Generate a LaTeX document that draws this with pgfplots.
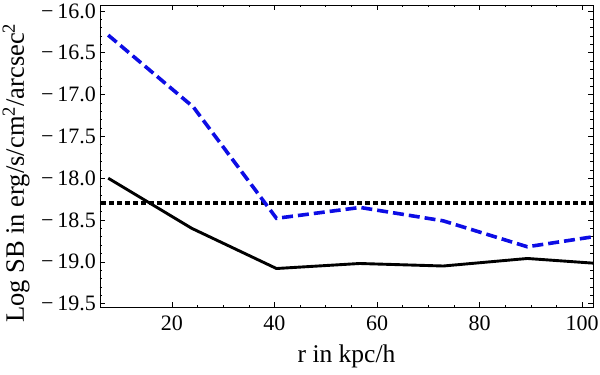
\documentclass[border=0pt]{standalone}
\usepackage{fontspec}
\setmainfont{Liberation Serif}
\usepackage{pgfplots}
\pgfplotsset{compat=1.18}
\definecolor{mblue}{rgb}{0.05,0.05,0.9}
\begin{document}
\begin{tikzpicture}[x=1pt,y=1pt]
\useasboundingbox (0,0) rectangle (600,375);
\begin{axis}[
  at={(100pt,68pt)}, anchor=south west,
  scale only axis, width=493pt, height=302pt,
  xmin=6.0, xmax=102.1, ymin=-19.54, ymax=-15.93,
  xtick={20,40,60,80,100}, xticklabels={20,40,60,80,100},
  ytick={-19.5,-19,-18.5,-18,-17.5,-17,-16.5,-16},
  yticklabels={−\,19.5,−\,19.0,−\,18.5,−\,18.0,−\,17.5,−\,17.0,−\,16.5,−\,16.0},
  minor x tick num=3, minor y tick num=4,
  tick align=inside,
  major tick length=5pt, minor tick length=2.5pt,
  every tick/.style={black, line width=0.5pt},
  axis line style={line width=0.8pt},
  tick label style={font=\fontsize{22}{24}\selectfont},
  yticklabel style={inner sep=1pt, xshift=-3pt},
  xticklabel style={yshift=-5pt},
  label style={font=\fontsize{25.5}{28}\selectfont},
  xlabel={r in kpc/h},
  xlabel style={at={(axis description cs:0.5,0)}, anchor=center, yshift=-49pt},
  ylabel={Log SB in erg/s/cm\textsuperscript{2}/arcsec\textsuperscript{2}},
  ylabel style={font=\fontsize{26.5}{28}\selectfont, at={(axis description cs:0,0.5)}, anchor=center, yshift=84pt, xshift=-17pt},
  clip=true,
]
\addplot[black, line width=4pt, dash pattern=on 4.5pt off 3.5pt] coordinates {(0,-18.30) (110,-18.30)};
\addplot[black, line width=2.9pt, line join=round] coordinates {
(7.6,-18.00) (23.9,-18.60) (40.4,-19.08) (56.6,-19.02) (72.9,-19.05) (89.3,-18.96) (105.4,-19.03)};
\addplot[mblue, line width=3.6pt, dash pattern=on 11pt off 5pt] coordinates {
(7.6,-16.29) (24.2,-17.15) (40.4,-18.48) (56.7,-18.35) (72.9,-18.51) (89.3,-18.82) (105.4,-18.67)};
\end{axis}
\end{tikzpicture}
\end{document}
